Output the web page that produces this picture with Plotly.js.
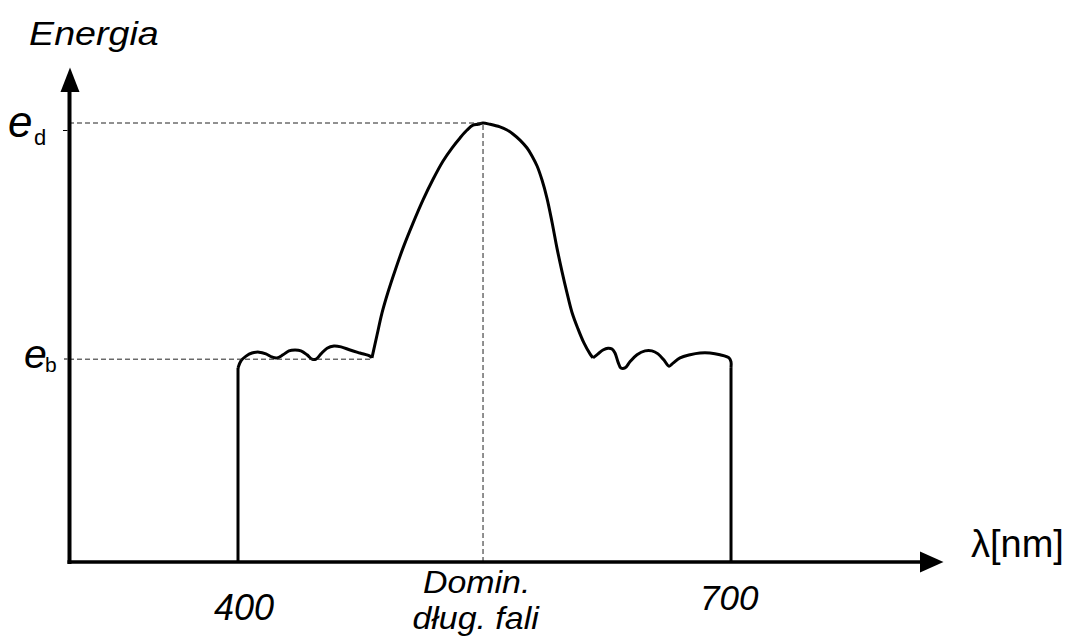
<!DOCTYPE html>
<html>
<head>
<meta charset="utf-8">
<script src="https://cdn.plot.ly/plotly-3.0.1.min.js"></script>
<style>html,body{margin:0;padding:0;background:#fff;}#chart{width:1072px;height:642px;}</style>
</head>
<body>
<div id="chart"></div>
<script>
// ---- data (wavelength in nm, energy relative to e_d = 1) ----
const lambdaStart = 400;
const lambdaEnd = 700;
const wallEnergy = 0.442;

const lambdaLeft = [400.0, 401.8, 404.9, 408.5, 412.8, 417.0, 420.7, 423.7, 427.4, 431.0, 434.7, 438.3, 442.0, 445.0, 447.5, 450.5, 454.2, 458.4, 462.7, 468.2, 474.2, 480.3, 481.5];
const energyLeft = [0.442, 0.458, 0.469, 0.476, 0.478, 0.474, 0.467, 0.465, 0.472, 0.481, 0.483, 0.481, 0.472, 0.462, 0.462, 0.474, 0.487, 0.492, 0.490, 0.483, 0.476, 0.469, 0.465];

const lambdaPeak = [481.5, 484.6, 487.6, 491.3, 495.5, 500.4, 506.5, 512.6, 518.7, 524.7, 530.2, 535.1, 539.4, 543.0, 546.0, 549.1, 553.4, 559.4, 563.7, 567.3, 571.6, 575.9, 578.9, 582.0, 585.0, 588.0, 591.1, 594.1, 597.2, 600.2, 603.2, 606.9, 610.5, 614.2, 616.0];
const energyPeak = [0.465, 0.517, 0.567, 0.615, 0.663, 0.715, 0.772, 0.825, 0.872, 0.913, 0.943, 0.966, 0.984, 0.995, 0.997, 1.000, 0.997, 0.991, 0.984, 0.975, 0.961, 0.943, 0.925, 0.902, 0.870, 0.829, 0.774, 0.715, 0.661, 0.613, 0.569, 0.531, 0.499, 0.474, 0.465];

const lambdaRight = [616.0, 619.1, 622.1, 625.2, 627.6, 629.4, 631.2, 633.0, 635.5, 638.5, 642.8, 647.7, 651.9, 655.6, 659.2, 662.3, 664.7, 669.0, 675.1, 681.1, 687.2, 693.3, 698.8, 700.0, 700.0];
const energyRight = [0.465, 0.474, 0.483, 0.487, 0.485, 0.476, 0.456, 0.442, 0.442, 0.456, 0.472, 0.481, 0.481, 0.474, 0.460, 0.446, 0.453, 0.465, 0.472, 0.476, 0.476, 0.472, 0.465, 0.456, 0.442];

const dominantLambda = 549.1;
const energyD = 1.0;
const energyB = 0.462;
const plateauEnd = 481.5;

const tickLabels = ['400', '700'];
const tickValues = [400, 700];
const domLabel = ['Domin.', 'dług. fali'];
const yTitle = 'Energia';
const xTitle = 'λ[nm]';

// ---- layout helpers ----
const W = 1072, H = 642;
const M = {l: 69, r: 129, t: 70, b: 80, pad: 0};
const plotW = W - M.l - M.r, plotH = H - M.t - M.b;
const px2paper = px => (px - M.l) / plotW;
const py2paper = py => (H - M.b - py) / plotH;
const xRange = [297.16, 829.0];
const yRange = [0, plotH / 439];

const lineStyle = {color: '#000', width: 3};
const traces = [
  {x: [lambdaStart, lambdaStart], y: [0, wallEnergy], mode: 'lines', line: lineStyle},
  {x: lambdaLeft, y: energyLeft, mode: 'lines', line: Object.assign({shape: 'spline', smoothing: 1}, lineStyle)},
  {x: lambdaPeak, y: energyPeak, mode: 'lines', line: Object.assign({shape: 'spline', smoothing: 1}, lineStyle)},
  {x: lambdaRight, y: energyRight, mode: 'lines', line: Object.assign({shape: 'spline', smoothing: 1}, lineStyle)},
  {x: [lambdaEnd, lambdaEnd], y: [wallEnergy, 0], mode: 'lines', line: lineStyle}
];

const dash = {color: '#222', width: 1, dash: '5px,3px'};
const shapes = [
  // dashed guides
  {type: 'line', xref: 'x', yref: 'y', x0: xRange[0], x1: dominantLambda, y0: energyD, y1: energyD, line: dash},
  {type: 'line', xref: 'x', yref: 'y', x0: dominantLambda, x1: dominantLambda, y0: 0, y1: energyD, line: dash},
  {type: 'line', xref: 'x', yref: 'y', x0: xRange[0], x1: plateauEnd, y0: energyB, y1: energyB, line: dash},
  // axes
  {type: 'line', xref: 'paper', yref: 'paper', x0: px2paper(69.5), x1: px2paper(69.5), y0: py2paper(564), y1: py2paper(88), line: {color: '#000', width: 4}},
  {type: 'line', xref: 'paper', yref: 'paper', x0: px2paper(67.5), x1: px2paper(925), y0: py2paper(562), y1: py2paper(562), line: {color: '#000', width: 3.5}},
  // arrow heads
  {type: 'path', xref: 'paper', yref: 'paper',
   path: `M ${px2paper(920)} ${py2paper(551.5)} L ${px2paper(943.5)} ${py2paper(562)} L ${px2paper(920)} ${py2paper(572.5)} Z`,
   fillcolor: '#000', line: {width: 0}},
  {type: 'path', xref: 'paper', yref: 'paper',
   path: `M ${px2paper(60.5)} ${py2paper(92)} L ${px2paper(70)} ${py2paper(67.5)} L ${px2paper(79.5)} ${py2paper(92)} Z`,
   fillcolor: '#000', line: {width: 0}},
  // small ticks
  {type: 'line', xref: 'paper', yref: 'paper', x0: px2paper(63), x1: px2paper(67.5), y0: py2paper(130.5), y1: py2paper(130.5), line: {color: '#000', width: 1}},
  {type: 'line', xref: 'paper', yref: 'paper', x0: px2paper(64), x1: px2paper(67.5), y0: py2paper(359), y1: py2paper(359), line: {color: '#000', width: 1}}
];

const FONT = 'Liberation Sans, Arial, sans-serif';
function txt(text, px, py, size, italic, extra) {
  return Object.assign({
    text: italic ? '<i>' + text + '</i>' : text,
    xref: 'paper', yref: 'paper', x: px2paper(px), y: py2paper(py),
    xanchor: 'center', yanchor: 'middle', showarrow: false,
    font: {family: FONT, size: size, color: '#000'}
  }, extra || {});
}
// baseline-based vertical centre: baseline - 0.3465*size
const mid = (baseline, size) => baseline - 0.3465 * size;

const annotations = [
  txt(yTitle, 94, mid(45, 33), 33, true),
  txt('e', 20, mid(136.5, 44), 44, true),
  txt('d', 39.5, mid(145, 22), 22, false),
  txt('e', 35, mid(368.5, 41), 41, true),
  txt('b', 51, mid(372, 21), 21, false),
  txt(xTitle, 1018, mid(557, 38), 38, false),
  {text: '<i>' + tickLabels[0] + '</i>', xref: 'x', yref: 'paper', x: tickValues[0], y: py2paper(mid(620, 36)), xshift: 6,
   xanchor: 'center', yanchor: 'middle', showarrow: false, font: {family: FONT, size: 36, color: '#000'}},
  {text: '<i>' + tickLabels[1] + '</i>', xref: 'x', yref: 'paper', x: tickValues[1], y: py2paper(mid(610, 35)), xshift: -2,
   xanchor: 'center', yanchor: 'middle', showarrow: false, font: {family: FONT, size: 35, color: '#000'}},
  txt(domLabel[0], 476, mid(593, 32), 32, true),
  txt(domLabel[1], 476, mid(629.5, 32), 32, true)
];

const layout = {
  width: W, height: H, margin: M,
  paper_bgcolor: '#fff', plot_bgcolor: '#fff',
  showlegend: false,
  xaxis: {range: xRange, visible: false, fixedrange: true},
  yaxis: {range: yRange, visible: false, fixedrange: true},
  shapes: shapes, annotations: annotations
};

Plotly.newPlot('chart', traces, layout, {staticPlot: true, displayModeBar: false}).then(() => {
  // widen the "Energia" title and the dominant-wavelength label as in the reference lettering
  const stretch = {};
  stretch[yTitle] = 1.14;
  stretch[domLabel[0]] = 1.06;
  stretch[domLabel[1]] = 1.06;
  document.querySelectorAll('.annotation-text').forEach(t => {
    const k = stretch[t.textContent];
    if (k) {
      const bb = t.getBBox();
      const cx = bb.x + bb.width / 2;
      const prev = t.getAttribute('transform') || '';
      t.setAttribute('transform', prev + ` translate(${cx},0) scale(${k},1) translate(${-cx},0)`);
    }
  });
});
</script>
</body>
</html>
